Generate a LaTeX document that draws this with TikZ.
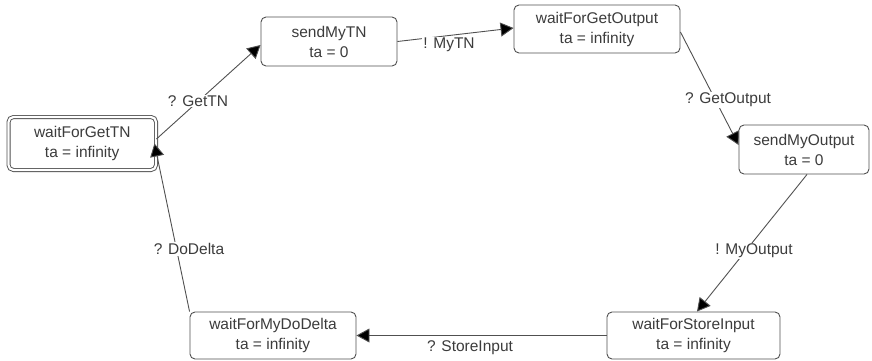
\documentclass[tikz,border=0pt]{standalone}
\usepackage{fontspec}
\setmainfont{Liberation Sans}
\usetikzlibrary{arrows.meta}
\definecolor{txt}{HTML}{3C3C3C}
\definecolor{edge}{HTML}{505050}
\tikzset{
  state/.style={draw=edge, line width=0.9pt, rounded corners=5pt, fill=white,
    text=txt, align=center, font=\fontsize{15.5}{20}\selectfont, inner sep=0pt},
  conn/.style={draw=edge, line width=0.9pt, -{Triangle[length=13pt,width=14pt,fill=black]}},
  lbl/.style={fill=white, text=txt, font=\fontsize{15.5}{19}\selectfont, inner sep=1pt}
}
\begin{document}
\begin{tikzpicture}[x=1pt,y=-1pt]
\useasboundingbox (0,0) rectangle (872,361);
\node[state, double, double distance=2.2pt, minimum width=147.5pt, minimum height=53pt] (gtn) at (82.25,143.5) {waitForGetTN\\ta = infinity};
\node[state, minimum width=136pt, minimum height=49pt] (smt) at (329,41.5) {sendMyTN\\ta = 0};
\node[state, minimum width=166pt, minimum height=48pt] (wgo) at (597,29) {waitForGetOutput\\ta = infinity};
\node[state, minimum width=130pt, minimum height=49pt] (smo) at (804,149.5) {sendMyOutput\\ta = 0};
\node[state, minimum width=173pt, minimum height=47pt] (wsi) at (693.5,335.5) {waitForStoreInput\\ta = infinity};
\node[state, minimum width=166pt, minimum height=47pt] (wmd) at (273,335.5) {waitForMyDoDelta\\ta = infinity};

\draw[conn] ([yshift=4.5pt]gtn.east) -- ([yshift=-3.5pt]smt.west);
\draw[conn] (smt.east) -- ([yshift=1pt]wgo.west);
\draw[conn] ([yshift=-3pt]wgo.east) -- ([yshift=4.5pt]smo.west);
\draw[conn] ([xshift=3pt]smo.south) -- ([xshift=3.5pt]wsi.north);
\draw[conn] (wsi.west) -- (wmd.east);
\draw[conn] (wmd.north west) -- ([xshift=-2pt]gtn.east);

\node[lbl] (l1) at (198,101) {? GetTN};
\node[lbl] (l2) at (449,45) {! MyTN};
\node[lbl] (l3) at (728,100) {? GetOutput};
\node[lbl] (l4) at (754,251) {! MyOutput};
\node[lbl] (l5) at (470,348) {? StoreInput};
\node[lbl] (l6) at (189,249) {? DoDelta};
\end{tikzpicture}
\end{document}
